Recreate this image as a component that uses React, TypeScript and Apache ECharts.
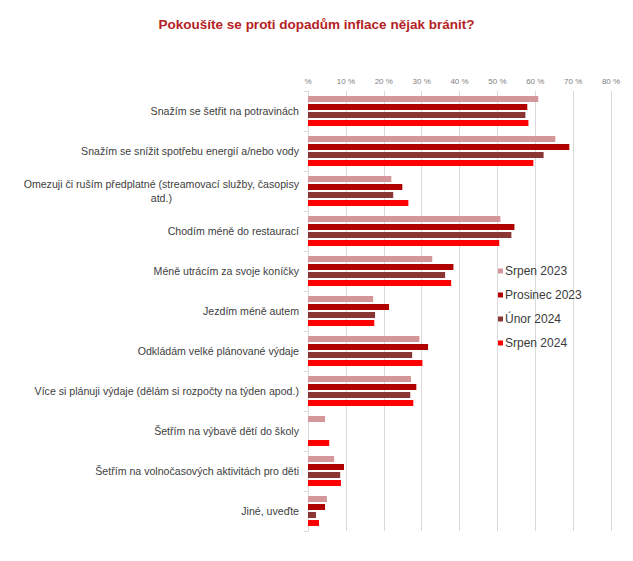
import React, { useEffect, useRef } from "react";
import * as echarts from "echarts";

const categories = [
  "Snažím se šetřit na potravinách",
  "Snažím se snížit spotřebu energií a/nebo vody",
  "Omezuji či ruším předplatné (streamovací služby, časopisy\natd.)",
  "Chodím méně do restaurací",
  "Méně utrácím za svoje koníčky",
  "Jezdím méně autem",
  "Odkládám velké plánované výdaje",
  "Více si plánuji výdaje (dělám si rozpočty na týden apod.)",
  "Šetřím na výbavě dětí do školy",
  "Šetřím na volnočasových aktivitách pro děti",
  "Jiné, uveďte",
];

const seriesNames = ["Srpen 2023", "Prosinec 2023", "Únor 2024", "Srpen 2024"];
const srpen2023 = [60.8, 65.3, 22.0, 50.8, 32.8, 17.2, 29.4, 27.2, 4.5, 6.9, 5.0];
const prosinec2023 = [57.9, 69.0, 24.9, 54.5, 38.4, 21.4, 31.7, 28.6, null, 9.5, 4.5];
const unor2024 = [57.4, 62.2, 22.5, 53.7, 36.2, 17.7, 27.5, 27.0, null, 8.5, 2.1];
const srpen2024 = [58.2, 59.5, 26.5, 50.5, 37.8, 17.5, 30.2, 27.8, 5.6, 8.7, 2.9];
const colors = ["#D4969A", "#B00000", "#8B3535", "#FF0000"];

export default function App() {
  const ref = useRef<HTMLDivElement>(null);
  useEffect(() => {
    const chart = echarts.init(ref.current!, null, { renderer: "svg" });
    const data = [srpen2023, prosinec2023, unor2024, srpen2024];
    chart.setOption({
      animation: false,
      textStyle: { fontFamily: "Liberation Sans, Arial, sans-serif" },
      title: {
        text: "Pokoušíte se proti dopadům inflace nějak bránit?",
        left: "center",
        top: 12,
        textStyle: { fontSize: 13.5, fontWeight: "bold", color: "#B41E24" },
      },
      legend: {
        orient: "vertical",
        left: 493,
        top: 260,
        itemWidth: 5,
        itemHeight: 5,
        itemGap: 12,
        icon: "rect",
        data: seriesNames,
        textStyle: { fontSize: 12, color: "#3A3A3A", padding: [0, 0, 0, -3] },
      },
      grid: { left: 308, top: 91, right: 22, bottom: 30, containLabel: false },
      xAxis: {
        type: "value",
        position: "top",
        min: 0,
        max: 80,
        interval: 10,
        axisLabel: {
          fontSize: 8,
          color: "#808080",
          margin: 6,
          formatter: (v: number) => (v === 0 ? "%" : v + " %"),
        },
        axisLine: { show: false },
        axisTick: { show: false },
        splitLine: { lineStyle: { color: "#D9D9D9", width: 1 } },
      },
      yAxis: {
        type: "category",
        inverse: true,
        data: categories,
        axisLine: { show: true, lineStyle: { color: "#D9D9D9" } },
        axisTick: { show: true, length: 4, lineStyle: { color: "#D9D9D9" } },
        axisLabel: {
          fontSize: 10.6,
          color: "#404040",
          margin: 9,
          lineHeight: 14,
          formatter: (v: string) => {
            const parts = v.split("\n");
            if (parts.length === 1) return v;
            return "{a|" + parts[0] + "}\n{b|" + parts[1] + "}";
          },
          rich: {
            a: { fontSize: 10.6, color: "#404040", lineHeight: 14 },
            b: { fontSize: 10.6, color: "#404040", lineHeight: 14, align: "center" },
          },
        },
      },
      series: seriesNames.map((name, i) => ({
        name,
        type: "bar",
        data: data[i],
        barWidth: 6,
        barGap: "33%",
        barCategoryGap: "25%",
        itemStyle: { color: colors[i] },
      })),
    });
    return () => chart.dispose();
  }, []);
  return <div ref={ref} style={{ width: 633, height: 561, margin: -8 }} />;
}
